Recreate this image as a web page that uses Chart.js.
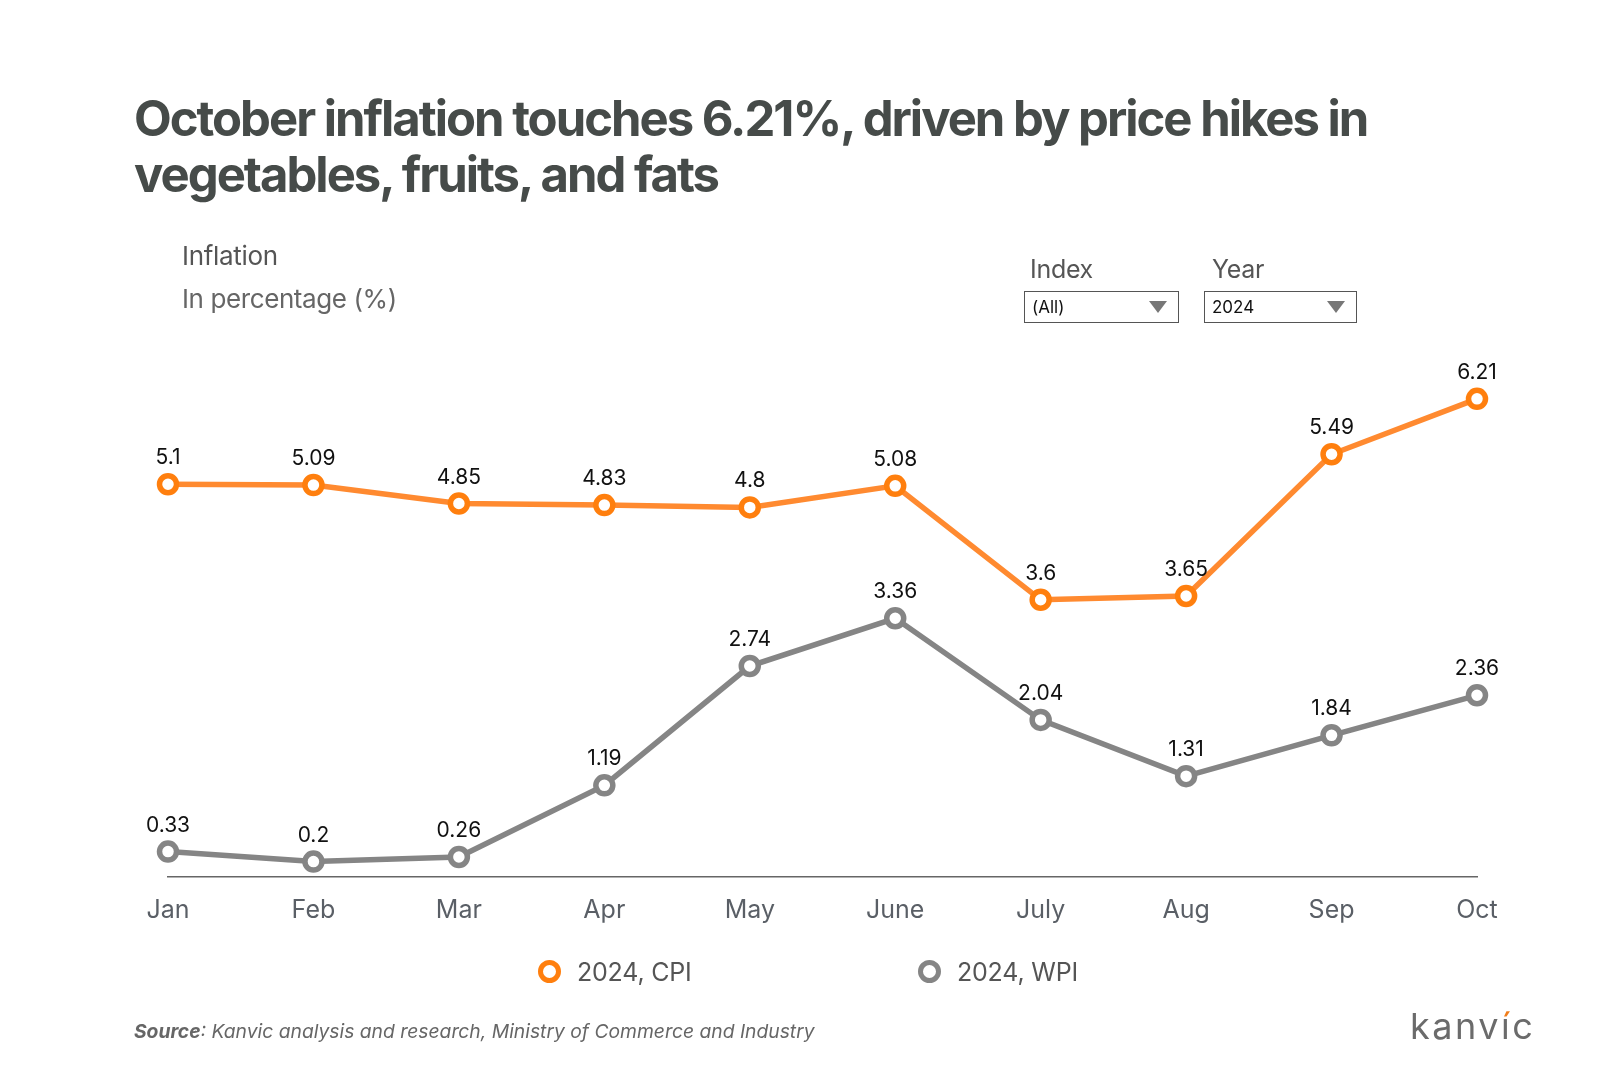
<!DOCTYPE html>
<html>
<head>
<meta charset="utf-8">
<script src="https://cdn.jsdelivr.net/npm/chart.js@4.4.1/dist/chart.umd.min.js"></script>
<style>
  html, body { margin: 0; padding: 0; background: #ffffff; }
  #page { position: relative; width: 1620px; height: 1078px; overflow: hidden; font-family: Inter, "Noto Sans", sans-serif; }
  #chartWrap { position: absolute; left: 0; top: 0; width: 1620px; height: 1078px; }
  .abs { position: absolute; white-space: nowrap; }
  #title { left: 134px; top: 91px; font-size: 49px; font-weight: 700; color: #464b49; line-height: 56px; letter-spacing: -2px; }
  #sub1 { left: 182px; top: 240px; font-size: 26px; color: #555555; line-height: 32px; letter-spacing: -0.3px; }
  #sub2 { left: 182px; top: 283px; font-size: 26px; color: #666666; line-height: 32px; letter-spacing: -0.4px; }
  .flabel { font-size: 25px; color: #555555; line-height: 30px; letter-spacing: -0.3px; }
  .dd { position: absolute; border: 1px solid #555; background: #fff; height: 32px; box-sizing: border-box; }
  .dd span { position: absolute; left: 7px; top: 5px; font-size: 17px; color: #111; line-height: 20px; }
  .tri { position: absolute; top: 9px; width: 0; height: 0; border-left: 9px solid transparent; border-right: 9px solid transparent; border-top: 12px solid #777; }
  .legItem { position: absolute; top: 957px; height: 30px; }
  .legMark { position: absolute; top: 3px; width: 13px; height: 13px; border-radius: 50%; border: 5.5px solid; background: #fff; }
  .legText { position: absolute; left: 39px; top: 0; font-size: 25px; color: #555555; line-height: 30px; white-space: nowrap; letter-spacing: -0.2px; }
  #source { left: 134px; top: 1018px; font-size: 19.3px; color: #666; font-style: italic; line-height: 26px; }
  #logo { left: 1410px; top: 1006px; font-size: 36px; font-weight: 400; color: #6b6b6b; letter-spacing: 2.5px; line-height: 40px; }
  #logo .acc { background: linear-gradient(to bottom, #f07d1a 0%, #f07d1a 34%, #6b6b6b 34%, #6b6b6b 100%); -webkit-background-clip: text; background-clip: text; color: transparent; }
</style>
</head>
<body>
<div id="page">
  <div id="chartWrap"><canvas id="c"></canvas></div>
  <div id="title" class="abs">October inflation touches 6.21%, driven by price hikes in<br>vegetables, fruits, and fats</div>
  <div id="sub1" class="abs">Inflation</div>
  <div id="sub2" class="abs">In percentage (%)</div>

  <div class="abs flabel" style="left:1030px; top:254px;">Index</div>
  <div class="abs flabel" style="left:1212px; top:254px;">Year</div>
  <div class="dd" style="left:1024px; top:291px; width:155px;"><span>(All)</span><div class="tri" style="left:124px;"></div></div>
  <div class="dd" style="left:1204px; top:291px; width:153px;"><span>2024</span><div class="tri" style="left:122px;"></div></div>

  <div class="legItem" style="left:538px;"><div class="legMark" style="border-color:#ff7f0e;"></div><div class="legText" id="leg0"></div></div>
  <div class="legItem" style="left:918px;"><div class="legMark" style="border-color:#858585;"></div><div class="legText" id="leg1"></div></div>

  <div id="source" class="abs"><b>Source</b>: Kanvic analysis and research, Ministry of Commerce and Industry</div>
  <div id="logo" class="abs">kanv<span class="acc">í</span>c</div>
</div>
<script>
const months = ["Jan", "Feb", "Mar", "Apr", "May", "June", "July", "Aug", "Sep", "Oct"];
const cpi2024 = [5.1, 5.09, 4.85, 4.83, 4.8, 5.08, 3.6, 3.65, 5.49, 6.21];
const wpi2024 = [0.33, 0.2, 0.26, 1.19, 2.74, 3.36, 2.04, 1.31, 1.84, 2.36];
const seriesNames = ["2024, CPI", "2024, WPI"];
const yMin = 0;
const yMax = 7;

document.getElementById('leg0').textContent = seriesNames[0];
document.getElementById('leg1').textContent = seriesNames[1];

const valueLabels = {
  id: 'valueLabels',
  afterDatasetsDraw(chart) {
    const ctx = chart.ctx;
    ctx.save();
    ctx.font = '21px Inter, "Noto Sans", sans-serif';
    ctx.fillStyle = '#111111';
    ctx.textAlign = 'center';
    ctx.textBaseline = 'alphabetic';
    chart.data.datasets.forEach((ds, di) => {
      const meta = chart.getDatasetMeta(di);
      meta.data.forEach((pt, i) => {
        ctx.fillText(String(ds.data[i]), pt.x, pt.y - 20);
      });
    });
    ctx.restore();
  }
};

new Chart(document.getElementById('c'), {
  type: 'line',
  data: {
    labels: months,
    datasets: [
      {
        label: seriesNames[0],
        data: cpi2024,
        borderColor: '#ff8a30',
        backgroundColor: '#ffffff',
        borderWidth: 5.5,
        pointRadius: 8.5,
        pointHoverRadius: 8.5,
        pointBorderWidth: 5.5,
        pointHoverBorderWidth: 5.5,
        pointBackgroundColor: '#ffffff',
        pointBorderColor: '#ff7f0e',
        tension: 0,
        fill: false
      },
      {
        label: seriesNames[1],
        data: wpi2024,
        borderColor: '#858585',
        backgroundColor: '#ffffff',
        borderWidth: 5.5,
        pointRadius: 8.5,
        pointHoverRadius: 8.5,
        pointBorderWidth: 5.5,
        pointHoverBorderWidth: 5.5,
        pointBackgroundColor: '#ffffff',
        pointBorderColor: '#858585',
        tension: 0,
        fill: false
      }
    ]
  },
  options: {
    responsive: true,
    maintainAspectRatio: false,
    animation: false,
    layout: { padding: { left: 168, right: 143, top: 338, bottom: 135 } },
    plugins: {
      legend: { display: false },
      tooltip: { enabled: false }
    },
    scales: {
      x: {
        offset: false,
        grid: { display: false, drawTicks: false },
        border: { display: true, color: '#666666', width: 1.5 },
        ticks: {
          padding: 18,
          color: '#5a5f66',
          font: { family: 'Inter, "Noto Sans", sans-serif', size: 25 },
          maxRotation: 0,
          autoSkip: false
        }
      },
      y: {
        display: false,
        min: yMin,
        max: yMax
      }
    }
  },
  plugins: [valueLabels]
});
</script>
</body>
</html>
